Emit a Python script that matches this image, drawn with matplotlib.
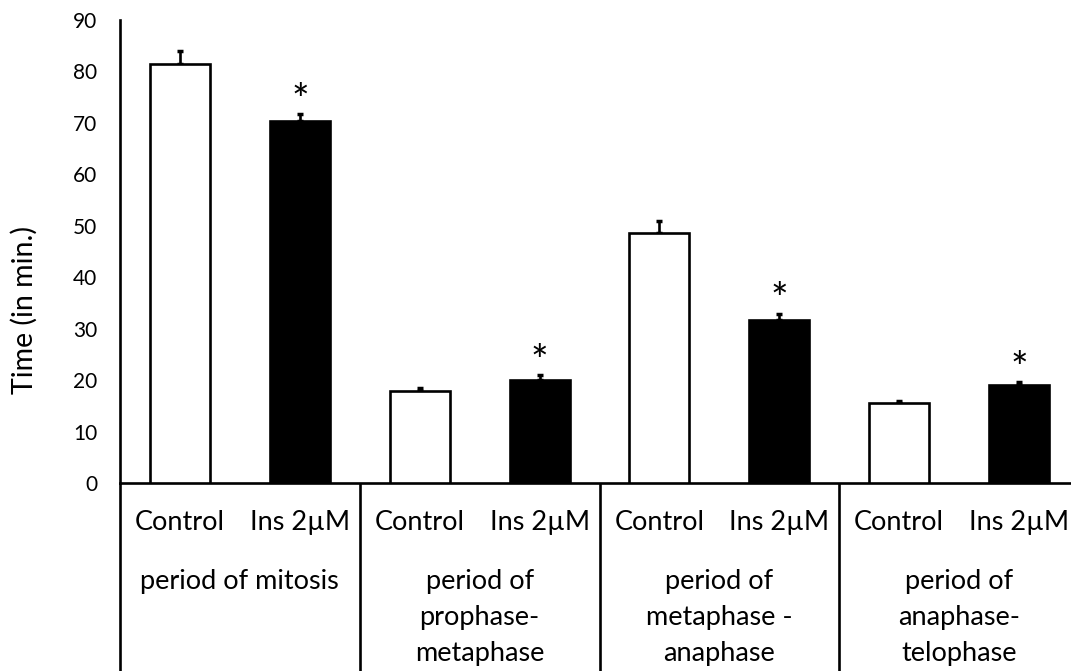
import matplotlib
matplotlib.use("Agg")
import matplotlib.pyplot as plt
import numpy as np

plt.rcParams['font.family'] = ['Lato', 'DejaVu Sans']

# mean duration (min) and SEM for each phase
phases = [['period of mitosis'],
          ['period of', 'prophase-', 'metaphase'],
          ['period of', 'metaphase -', 'anaphase'],
          ['period of', 'anaphase-', 'telophase']]
conditions = ['Control', 'Ins 2\u00b5M']
control_mean = [81.4, 17.9, 48.5, 15.5]
control_sem = [2.6, 0.6, 2.4, 0.5]
ins_mean = [70.4, 20.0, 31.7, 19.1]
ins_sem = [1.3, 0.9, 1.2, 0.45]
significant = [True, True, True, True]

W, H = 1071, 671
fig = plt.figure(figsize=(W / 100, H / 100), dpi=100)
# axis runs past the right edge of the canvas
ax = fig.add_axes([120 / W, (H - 483) / H, 959 / W, 463 / H])

n = len(phases)
xc = np.arange(n) * 2
xi = xc + 1
lw = 1.9

ax.bar(xc, control_mean, width=0.5, color='white', edgecolor='black', linewidth=lw, zorder=3)
ax.bar(xi, ins_mean, width=0.5, color='black', edgecolor='black', linewidth=lw, zorder=3)
ax.errorbar(xc, control_mean, yerr=[np.zeros(n), control_sem], fmt='none',
            ecolor='black', elinewidth=lw, capsize=2.5, capthick=2.5, zorder=2)
ax.errorbar(xi, ins_mean, yerr=[np.zeros(n), ins_sem], fmt='none',
            ecolor='black', elinewidth=lw, capsize=2.5, capthick=2.5, zorder=2)

for x, m, e, s in zip(xi, ins_mean, ins_sem, significant):
    if s:
        ax.annotate('*', (x, m + e), xytext=(0, 9), textcoords='offset points',
                    ha='center', va='center', fontsize=30)

ax.set_xlim(-0.5, 2 * n - 0.5)
ax.set_ylim(0, 90)
ax.set_yticks(np.arange(0, 91, 10))
ax.set_xticks([])
ax.tick_params(axis='y', length=0, pad=16.5, labelsize=15)
for side in ['top', 'right']:
    ax.spines[side].set_visible(False)
for side in ['left', 'bottom']:
    ax.spines[side].set_linewidth(lw)

# category table under the axis
tr = ax.get_xaxis_transform()
def yfrac(px):
    return (483 - px) / 463

fs = 19.5
for i in range(n):
    ax.text(xc[i], yfrac(530), conditions[0], transform=tr, ha='center',
            va='baseline', fontsize=fs)
    ax.text(xi[i], yfrac(530), conditions[1], transform=tr, ha='center',
            va='baseline', fontsize=fs)
    for j, line in enumerate(phases[i]):
        ax.text(2 * i + 0.5, yfrac(589 + 36 * j), line, transform=tr, ha='center',
                va='baseline', fontsize=fs)

for xs in np.arange(n + 1) * 2 - 0.5:
    ax.plot([xs, xs], [0, yfrac(H + 5)], transform=tr, color='black', lw=lw,
            clip_on=False, solid_capstyle='butt')

fig.text(24 / W, 1 - 310 / H, 'Time (in min.)', rotation=90, ha='center',
         va='center', fontsize=20.5)

fig.savefig('out.png', dpi=100)
